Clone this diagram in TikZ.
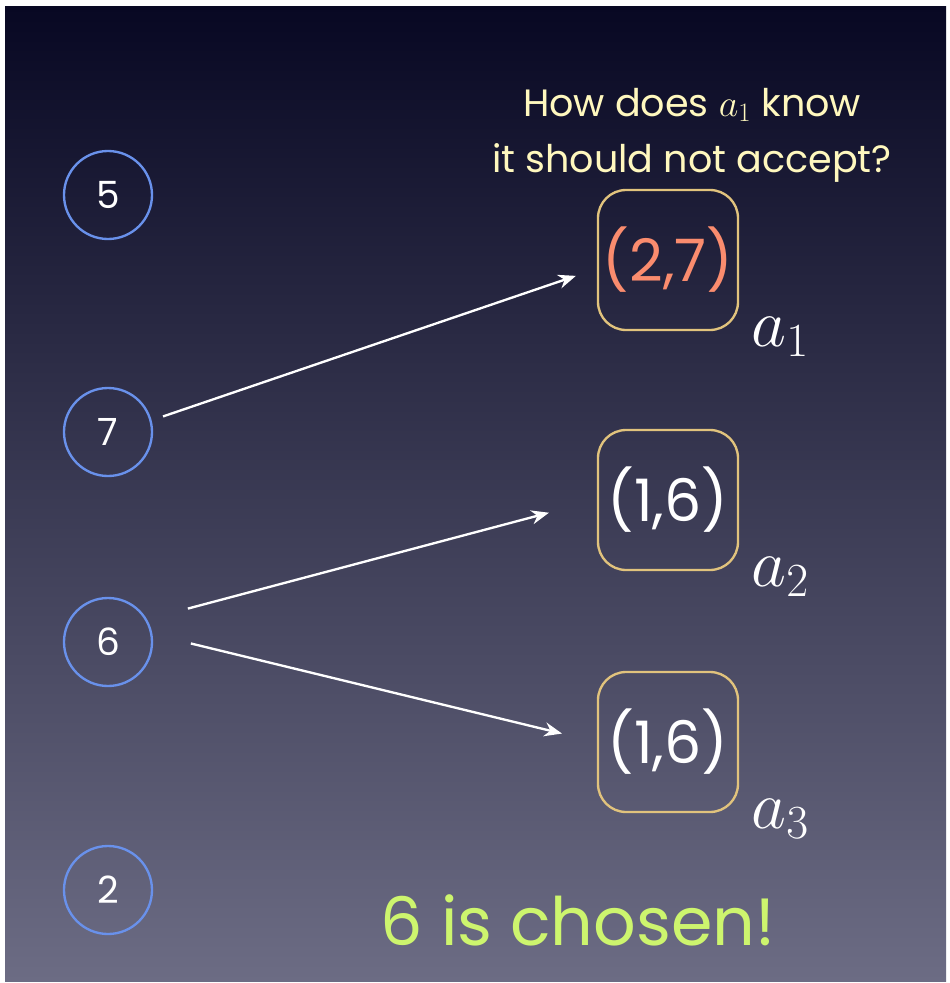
\RequirePackage{fix-cm}
\documentclass[tikz,border=0pt]{standalone}
\usepackage{fontspec}
\setmainfont{Poppins}
\usetikzlibrary{arrows.meta, calc, positioning}
\definecolor{slidetop}{RGB}{8,8,35}
\definecolor{slidebot}{RGB}{108,108,132}
\definecolor{vertblue}{RGB}{105,145,235}
\definecolor{boxtan}{RGB}{225,195,125}
\definecolor{pairred}{RGB}{250,140,110}
\definecolor{asky}{RGB}{255,248,190}
\definecolor{chosen}{RGB}{205,245,110}

\begin{document}
\begin{tikzpicture}[x=0.03cm, y=-0.03cm,
	vert/.style={circle, draw=vertblue, line width=2pt, minimum size=2.64cm,
		text=white, font=\fontsize{32}{34}\selectfont},
	pairbox/.style={draw=boxtan, line width=2pt, rounded corners=24pt,
		minimum size=4.2cm, font=\fontsize{50}{54}\selectfont},
	lbl/.style={text=white, font=\fontsize{58}{60}\selectfont, inner sep=0pt},
	arr/.style={-{Stealth[length=15pt, width=12pt]}, white, line width=2pt}]
	\useasboundingbox (0,0) rectangle (949,983);
	\fill[white] (0,0) rectangle (949,983);
	\shade[top color=slidetop, bottom color=slidebot] (5,7) rectangle (946,981);
	
	% vertices
	\foreach \v/\y in {5/195,7/432,6/642,2/890}
	\node[vert] (n\v) at (108,\y) {\v};
	
	% pairs kept by the acceptors
	\foreach \i/\y/\p/\c in {1/260/{(2,7)}/pairred, 2/500/{(1,6)}/white, 3/742/{(1,6)}/white}
	{
		\node[pairbox, text=\c] (b\i) at (668,\y) {\p};
		\node[lbl, anchor=base west] (l\i) at ($(b\i.south east)+(12,15)$) {$a_\i$};
	}
	
	\draw[arr, shorten <=10.3pt, shorten >=18.9pt] (n7.15) -- (b1.187);
	\draw[arr, shorten <=36pt, shorten >=42.3pt] (n6.30) -- (b2.west);
	\draw[arr, shorten <=33.7pt, shorten >=30.6pt] (n6.10) -- (b3.west);
	
	\node[font=\fontsize{32.5}{48}\selectfont, text=asky, align=center] (ask) at (692,135)
		{How does $a_1$ know\\it should not accept?};
	\node[font=\fontsize{57}{60}\selectfont, text=chosen, anchor=base] (done) at (578,945)
		{6 is chosen!};
\end{tikzpicture}
\end{document}
